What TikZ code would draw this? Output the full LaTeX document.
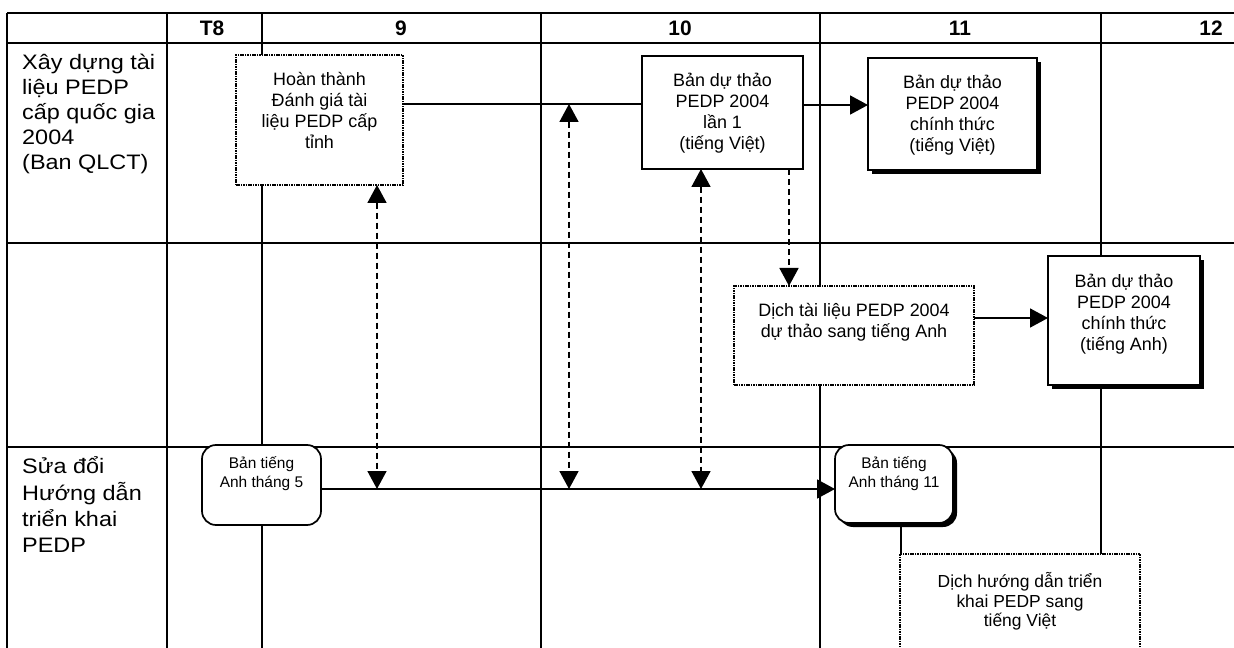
\documentclass[tikz,border=0pt]{standalone}
\usepackage{fontspec}
\setmainfont{Liberation Sans}
\newfontfamily\leftfont[FakeStretch=1.12]{Liberation Sans}
\usetikzlibrary{arrows.meta,shadows}
\newcommand\bxt[4]{\parbox[c][#2bp][t]{#1bp}{\centering\vspace*{#3bp}\strut #4\par}}
\newcommand\lbt[3]{\parbox[c][#1bp][t]{145bp}{\raggedright\vspace*{#2bp}\strut #3\par}}
\tikzset{
  tbl/.style={line width=1.3bp, black},
  bx/.style={draw, line width=1.7bp, fill=white, inner sep=0pt, outer sep=0pt,
             font=\fontsize{18}{21}\selectfont},
  dotbx/.style={bx, line width=2bp, dash pattern=on 1.6bp off 0.8bp},
  shbx/.style={bx, drop shadow={shadow xshift=4bp, shadow yshift=-4bp, opacity=1, fill=black}},
  rbx/.style={bx, rounded corners=14bp, font=\fontsize{15.5}{19}\selectfont},
  conn/.style={line width=1.7bp},
  tip/.style={-{Triangle[length=18bp,width=19bp]}},
  dtip/.style={{Triangle[length=18bp,width=19bp]}-{Triangle[length=18bp,width=19bp]}},
  dconn/.style={conn, dash pattern=on 6bp off 4bp},
  hdr/.style={font=\fontsize{21}{24}\selectfont\bfseries, inner sep=0pt},
  lbl/.style={anchor=north west, inner sep=0pt, font=\leftfont\fontsize{21}{25}\selectfont}
}
\begin{document}
\begin{tikzpicture}[x=1bp,y=-1bp]
\useasboundingbox (0,0) rectangle (1234,648);
\clip (0,0) rectangle (1234,648);
% table grid
\foreach \yy in {13,43,243,447} \draw[tbl] (7,\yy) -- (1234,\yy);
\foreach \xx in {7,167,262,541,820,1101} \draw[tbl] (\xx,13) -- (\xx,648);
% header
\node[hdr] (hT8) at (212,28) {T8};
\node[hdr] (h9) at (401,28) {9};
\node[hdr] (h10) at (680,28) {10};
\node[hdr] (h11) at (960,28) {11};
\node[hdr] (h12) at (1211,28) {12};
% row labels
\node[lbl] (lab1) at (22,44) {\lbt{190}{8.1}{Xây dựng tài\\liệu PEDP\\cấp quốc gia\\2004\\(Ban QLCT)}};
\node[lbl] (lab3) at (22,448) {\fontsize{21}{26}\selectfont\lbt{190}{7.4}{Sửa đổi\\Hướng dẫn\\triển khai\\PEDP}};
% boxes
\node[dotbx] (b1) at (319.5,120) {\bxt{167}{130}{15.8}{Hoàn thành\\Đánh giá tài\\liệu PEDP cấp\\tỉnh}};
\node[bx] (b2) at (722.5,112.5) {\bxt{161}{113}{15.8}{Bản dự thảo\\PEDP 2004\\lần 1\\(tiếng Việt)}};
\node[shbx] (b3) at (952.5,114) {\bxt{169}{112}{15.8}{Bản dự thảo\\PEDP 2004\\chính thức\\(tiếng Việt)}};
\node[dotbx] (b4) at (854,335.5) {\bxt{240}{99}{15.8}{Dịch tài liệu PEDP 2004\\dự thảo sang tiếng Anh}};
\node[shbx] (b5) at (1124,320.5) {\bxt{152}{129}{16.8}{Bản dự thảo\\PEDP 2004\\chính thức\\(tiếng Anh)}};
\node[rbx] (b6) at (261.5,485) {\bxt{119}{80}{10.3}{Bản tiếng\\Anh tháng 5}};
\node[rbx, drop shadow={shadow xshift=4bp, shadow yshift=-4bp, opacity=1, fill=black}] (b11) at (894,484) {\bxt{118}{78}{10.3}{Bản tiếng\\Anh tháng 11}};
\node[dotbx, font=\fontsize{17.5}{19.5}\selectfont] (b7) at (1020,609) {\bxt{240}{110}{18.5}{Dịch hướng dẫn triển\\khai PEDP sang\\tiếng Việt}};
% helper coordinates
\coordinate (h1) at (0,104);
\coordinate (h2) at (0,105);
\coordinate (h3) at (0,318);
\coordinate (h4) at (0,489);
\coordinate (d1) at (377,489);
\coordinate (d2t) at (569,104);
\coordinate (d2) at (569,489);
\coordinate (d3) at (701,489);
\coordinate (d4) at (789,0);
\coordinate (v7) at (901,0);
% solid connectors
\draw[conn] (b1.east |- h1) -- (b2.west |- h1);
\draw[conn,tip] (b2.east |- h2) -- (b3.west |- h2);
\draw[conn,tip] (b4.east |- h3) -- (b5.west |- h3);
\draw[conn,tip] (b6.east |- h4) -- (b11.west |- h4);
\draw[tbl] (b11.south -| v7) -- (b7.north -| v7);
% dashed connectors
\draw[dconn,dtip] (b1.south -| d1) -- (d1);
\draw[dconn,dtip] (d2t) -- (d2);
\draw[dconn,dtip] (b2.south -| d3) -- (d3);
\draw[dconn,tip] (b2.south -| d4) -- (b4.north -| d4);
\end{tikzpicture}
\end{document}
